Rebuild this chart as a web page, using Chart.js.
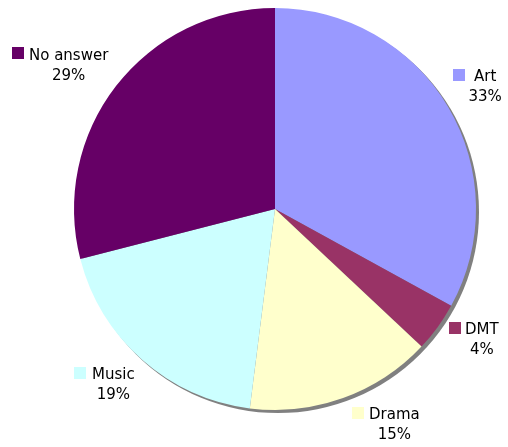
<!DOCTYPE html>
<html>
<head>
<meta charset="utf-8">
<script src="https://cdn.jsdelivr.net/npm/chart.js@4/dist/chart.umd.min.js"></script>
<style>
  html, body { margin: 0; padding: 0; background: #ffffff; }
  #wrap { width: 508px; height: 447px; position: relative; }
</style>
</head>
<body>
<div id="wrap"><canvas id="c" width="508" height="447"></canvas></div>
<script>
// ---- data ----
const categories = ["Art", "DMT", "Drama", "Music", "No answer"];
const percentages = [33, 4, 15, 19, 29];
const sliceColors = ["#9999FF", "#993366", "#FFFFCC", "#CCFFFF", "#660066"];

// label placement (annotation layout): square x, square y, text left, first baseline
const labelLayout = [
  [453, 69, 474, 81],
  [449, 322, 465, 334],
  [352, 407, 369, 419],
  [74, 367, 92, 379],
  [12, 47, 29, 60]
];

const shadowPlugin = {
  id: 'pieShadow',
  beforeDatasetsDraw(chart) {
    const meta = chart.getDatasetMeta(0);
    if (!meta.data.length) return;
    const arc = meta.data[0];
    const ctx = chart.ctx;
    ctx.save();
    ctx.fillStyle = '#808080';
    ctx.beginPath();
    ctx.arc(arc.x + 3, arc.y + 3, arc.outerRadius, 0, Math.PI * 2);
    ctx.fill();
    ctx.restore();
  }
};

const labelPlugin = {
  id: 'outsideLabels',
  afterDatasetsDraw(chart) {
    const ctx = chart.ctx;
    ctx.save();
    ctx.font = '15px "DejaVu Sans", Verdana, sans-serif';
    ctx.textBaseline = 'alphabetic';
    categories.forEach((name, i) => {
      const [sx, sy, tx, by] = labelLayout[i];
      ctx.fillStyle = sliceColors[i];
      ctx.fillRect(sx, sy, 12, 12);
      ctx.fillStyle = '#000000';
      ctx.textAlign = 'left';
      ctx.fillText(name, tx, by);
      const w = ctx.measureText(name).width;
      ctx.textAlign = 'center';
      ctx.fillText(percentages[i] + '%', tx + w / 2, by + 20);
    });
    ctx.restore();
  }
};

new Chart(document.getElementById('c'), {
  type: 'pie',
  data: {
    labels: categories,
    datasets: [{
      data: percentages,
      backgroundColor: sliceColors,
      borderWidth: 0
    }]
  },
  options: {
    responsive: false,
    animation: false,
    events: [],
    layout: { padding: { left: 74, right: 32, top: 8, bottom: 37 } },
    plugins: {
      legend: { display: false },
      tooltip: { enabled: false }
    }
  },
  plugins: [shadowPlugin, labelPlugin]
});
</script>
</body>
</html>
